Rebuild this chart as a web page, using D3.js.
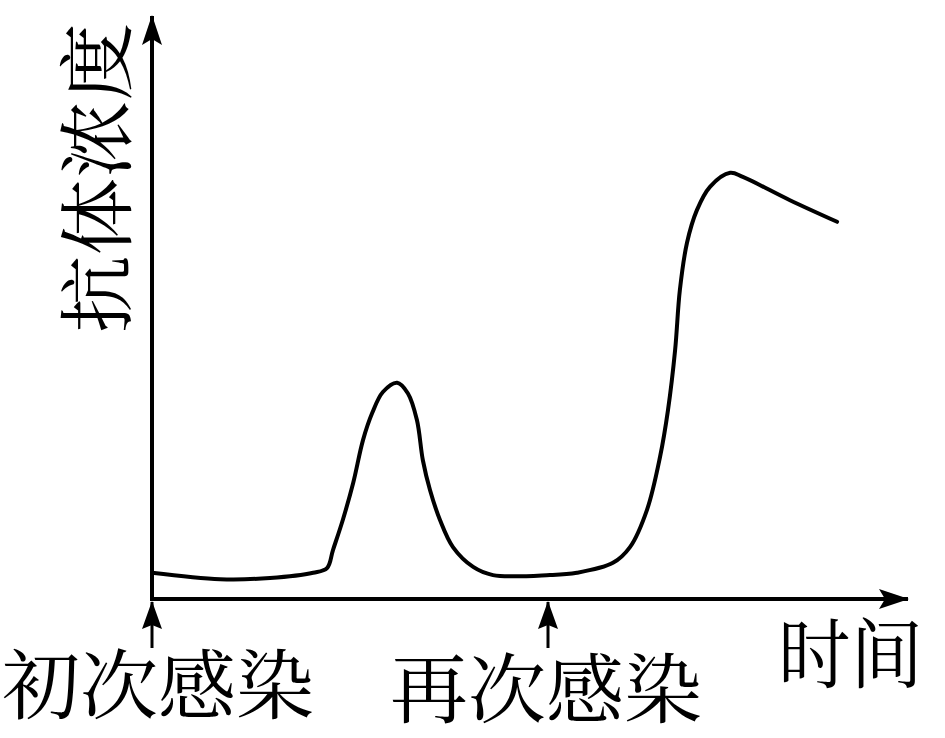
<!DOCTYPE html>
<html>
<head>
<meta charset="utf-8">
<script src="https://cdn.jsdelivr.net/npm/d3@7"></script>
<style>
    body { margin: 0; background: #fff; }
    svg { display: block; }
    text { font-family: "Noto Serif CJK SC", "Noto Sans CJK SC", sans-serif; fill: #000; }
</style>
</head>
<body>
<div id="chart"></div>
<script>
// time (arbitrary units, 初次感染 at 0, 再次感染 at 10) and antibody level (0-100)
const time = [0, 1.72, 2.98, 4.07, 4.42, 4.57, 4.82, 5.08, 5.33, 5.56, 5.83, 6.19, 6.46, 6.69, 6.84, 7.02, 7.27, 7.6, 8.11, 8.61,
    10.05, 10.73, 11.64, 12.07, 12.5, 12.83, 13.03, 13.21, 13.33, 13.51, 13.76, 14.09, 14.6, 14.92, 16.11, 17.3];
const antibody = [4.5, 3.4, 3.6, 4.5, 5.3, 8.4, 13.6, 19.9, 27.3, 31.9, 35.5, 37.1, 35.3, 30.7, 23.8, 18.7, 13.6, 8.9, 5.5, 4.1,
    4.1, 4.5, 6.2, 8.9, 15.3, 24.4, 32.4, 42.7, 53.0, 61.1, 66.7, 70.7, 73.1, 72.4, 68.4, 64.7];
const infections = [{t: 0, label: "初次感染"}, {t: 10, label: "再次感染"}];
const yLabel = "抗体浓度";
const xLabel = "时间";

const width = 945, height = 738;
const svg = d3.select("#chart").append("svg")
    .attr("width", width)
    .attr("height", height);

let x = d3.scaleLinear().domain([0, 10]).range([152, 548]);
let y = d3.scaleLinear().domain([0, 100]).range([599, 16]);
const xEnd = x.invert(908);

// arrow markers
const defs = svg.append("defs");
defs.append("marker")
    .attr("id", "arrow")
    .attr("viewBox", "0 0 30 20")
    .attr("refX", 29).attr("refY", 10)
    .attr("markerWidth", 30).attr("markerHeight", 20)
    .attr("markerUnits", "userSpaceOnUse")
    .attr("orient", "auto")
    .append("path")
    .attr("d", "M0,0 L30,10 L0,20 L6,10 Z")
    .attr("fill", "#000");
defs.append("marker")
    .attr("id", "smallArrow")
    .attr("viewBox", "0 0 28 20")
    .attr("refX", 27).attr("refY", 10)
    .attr("markerWidth", 28).attr("markerHeight", 20)
    .attr("markerUnits", "userSpaceOnUse")
    .attr("orient", "auto")
    .append("path")
    .attr("d", "M0,0 L28,10 L0,20 L4,10 Z")
    .attr("fill", "#000");

// axes
svg.append("line")
    .attr("x1", x(0)).attr("y1", y(0))
    .attr("x2", x(xEnd)).attr("y2", y(0))
    .attr("stroke", "#000").attr("stroke-width", 4)
    .attr("marker-end", "url(#arrow)");
svg.append("line")
    .attr("x1", x(0)).attr("y1", y(0) + 2)
    .attr("x2", x(0)).attr("y2", y(100))
    .attr("stroke", "#000").attr("stroke-width", 4)
    .attr("marker-end", "url(#arrow)");

// infection markers
svg.selectAll(".inf-arrow")
    .data(infections)
    .enter().append("line")
    .attr("class", "inf-arrow")
    .attr("x1", d => x(d.t)).attr("y1", 648)
    .attr("x2", d => x(d.t)).attr("y2", 602)
    .attr("stroke", "#000").attr("stroke-width", 3)
    .attr("marker-end", "url(#smallArrow)");

const labelStart = [2, 390];
svg.selectAll(".inf-label")
    .data(infections)
    .enter().append("text")
    .attr("class", "inf-label")
    .attr("x", (d, i) => labelStart[i])
    .attr("y", (d, i) => i === 0 ? 680 : 684)
    .attr("dominant-baseline", "central")
    .attr("font-size", 76)
    .attr("textLength", 312)
    .attr("lengthAdjust", "spacingAndGlyphs")
    .text(d => d.label);

// axis labels
svg.append("text")
    .attr("x", 778)
    .attr("y", 649)
    .attr("dominant-baseline", "central")
    .attr("font-size", 76)
    .attr("textLength", 145)
    .attr("lengthAdjust", "spacingAndGlyphs")
    .text(xLabel);

svg.append("text")
    .attr("transform", "translate(92,178) rotate(-90)")
    .attr("text-anchor", "middle")
    .attr("dominant-baseline", "central")
    .attr("font-size", 76)
    .attr("textLength", 310)
    .attr("lengthAdjust", "spacingAndGlyphs")
    .text(yLabel);

// antibody curve
const line = d3.line()
    .x((d, i) => x(time[i]))
    .y(d => y(d))
    .curve(d3.curveCatmullRom.alpha(0.5));

svg.append("path")
    .datum(antibody)
    .attr("fill", "none")
    .attr("stroke", "#000")
    .attr("stroke-width", 4)
    .attr("stroke-linejoin", "round")
    .attr("stroke-linecap", "round")
    .attr("d", line);
</script>
</body>
</html>
